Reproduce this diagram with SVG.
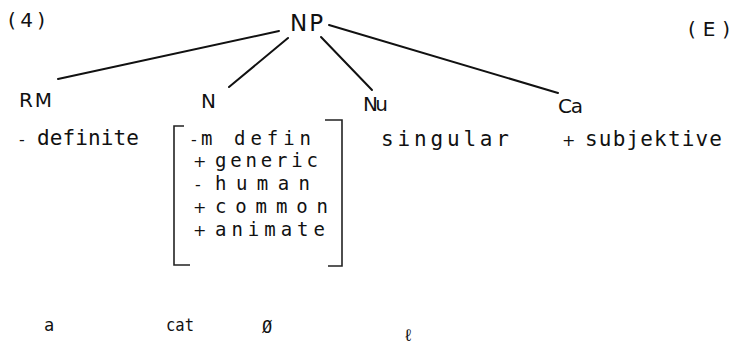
<svg xmlns="http://www.w3.org/2000/svg" width="734" height="349" viewBox="0 0 734 349">
  <style>
    text { font-family: "DejaVu Sans", "Liberation Sans", sans-serif; fill: #111; }
    .cat { font-size: 20px; }
    .feat { font-family: "DejaVu Sans Mono", "Liberation Mono", monospace; font-size: 21px; }
    .row { font-family: "DejaVu Sans Mono", "Liberation Mono", monospace; font-size: 19px; }
    .word { font-family: "DejaVu Sans Mono", "Liberation Mono", monospace; font-size: 17px; }
    .sign { font-size: 16px; }
    .edge { stroke: #111; stroke-width: 2; fill: none; stroke-linecap: round; }
    .br { stroke: #222; stroke-width: 1.6; fill: none; }
  </style>
  <rect width="734" height="349" fill="#fff"/>

  <text x="8" y="27" font-size="20" textLength="37" lengthAdjust="spacing">(4)</text>
  <text x="688" y="36" font-size="20" textLength="42" lengthAdjust="spacing">(E)</text>

  <g id="connectors">
    <line class="edge" x1="279" y1="31" x2="58" y2="79"/>
    <line class="edge" x1="288" y1="38" x2="229" y2="87"/>
    <line class="edge" x1="321" y1="37" x2="372" y2="90"/>
    <line class="edge" x1="329" y1="25" x2="558" y2="93"/>
  </g>

  <g id="np"><text x="290" y="31" font-size="23" textLength="33" lengthAdjust="spacing">NP</text></g>

  <g id="rm">
    <text class="cat" x="19" y="107" textLength="33" lengthAdjust="spacing">RM</text>
    <text class="sign" x="19" y="145">-</text>
    <text class="feat" x="37" y="145" textLength="102" lengthAdjust="spacing">definite</text>
  </g>

  <g id="n">
    <text class="cat" x="201" y="108">N</text>
    <path class="br" d="M184,126 H174 V265 H190"/>
    <path class="br" d="M325,120 H342 V266 H328"/>
    <text class="sign" x="191" y="145">-</text>
    <text class="row" x="201" y="145">m</text>
    <text class="row" x="234" y="145" textLength="77" lengthAdjust="spacing">defin</text>
    <text class="sign" x="193" y="167">+</text>
    <text class="row" x="215" y="167" textLength="103" lengthAdjust="spacing">generic</text>
    <text class="sign" x="195" y="190">-</text>
    <text class="row" x="215" y="190" textLength="95" lengthAdjust="spacing">human</text>
    <text class="sign" x="193" y="213">+</text>
    <text class="row" x="215" y="213" textLength="113" lengthAdjust="spacing">common</text>
    <text class="sign" x="193" y="236">+</text>
    <text class="row" x="215" y="236" textLength="110" lengthAdjust="spacing">animate</text>
  </g>

  <g id="nu">
    <text class="cat" x="363" y="111" textLength="25" lengthAdjust="spacing">Nu</text>
    <text class="feat" x="381" y="146" textLength="128" lengthAdjust="spacing">singular</text>
  </g>

  <g id="ca">
    <text class="cat" x="558" y="113" textLength="25" lengthAdjust="spacing">Ca</text>
    <text class="sign" x="562" y="146">+</text>
    <text class="feat" x="585" y="146" textLength="137" lengthAdjust="spacing">subjektive</text>
  </g>

  <g id="words">
    <text class="word" x="44" y="331">a</text>
    <text class="word" x="166" y="331" textLength="28" lengthAdjust="spacingAndGlyphs">cat</text>
    <text class="word" x="262" y="333">Ø</text>
    <text class="word" x="403" y="341">ℓ</text>
  </g>
</svg>
